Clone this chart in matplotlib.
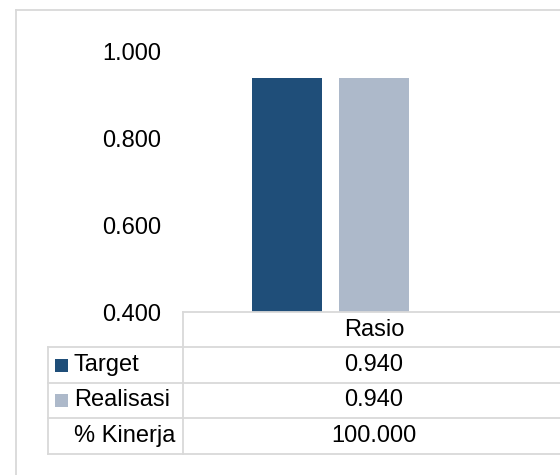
import matplotlib.pyplot as plt
from matplotlib.lines import Line2D
from matplotlib.patches import Rectangle
import numpy as np

plt.rcParams["font.family"] = ["Liberation Sans", "DejaVu Sans"]

categories = ["Rasio"]
series = ["Target", "Realisasi", "% Kinerja"]
values = [[0.940], [0.940], [100.000]]
colors = ["#1f4e79", "#adb9ca", "none"]
yticks = [0.4, 0.6, 0.8, 1.0]

W, H = 560, 475
fig = plt.figure(figsize=(W / 100, H / 100), dpi=100)


def fx(px):
    return px / W


def fy(py):
    return 1 - py / H


GRID = "#d9d9d9"
FS = 17

# outer chart border (only left and top are inside the canvas)
fig.add_artist(Line2D([fx(16), fx(16)], [fy(10), 0], color=GRID, lw=1.3))
fig.add_artist(Line2D([fx(16), 1], [fy(10), fy(10)], color=GRID, lw=1.3))

# plot area, spanning the single category column of the data table
ax_l, ax_r, ax_t, ax_b = 183.3, 564.7, 51.7, 312.3
ax = fig.add_axes([fx(ax_l), fy(ax_b), fx(ax_r - ax_l), fy(ax_t) - fy(ax_b)])
ax.set_clip_on(False)

x = np.arange(len(categories))
bw = 70 / (ax_r - ax_l)
step = 87.5 / (ax_r - ax_l)
for i, (name, vals, c) in enumerate(zip(series, values, colors)):
    ax.bar(x + (i - 1) * step, vals, width=bw, color=c, label=name)

ax.set_xlim(-0.5, len(categories) - 0.5)
ax.set_ylim(0.4, 1.0)
ax.set_yticks(yticks)
ax.set_yticklabels([f"{v:.3f}" for v in yticks], fontsize=FS)
ax.tick_params(axis="y", length=0, pad=16)
ax.set_xticks([])
for s in ax.spines.values():
    s.set_visible(False)

# data table under the plot
col_l, col_r = 47.7, 183.3
rows = [312.3, 347.3, 382.7, 418.3, 454.3]
lw = 1.3
fig.add_artist(Line2D([fx(col_r), 1], [fy(rows[0])] * 2, color=GRID, lw=lw))
for r in rows[1:]:
    fig.add_artist(Line2D([fx(col_l), 1], [fy(r)] * 2, color=GRID, lw=lw))
fig.add_artist(Line2D([fx(col_l)] * 2, [fy(rows[1]), fy(rows[-1])], color=GRID, lw=lw))
fig.add_artist(Line2D([fx(col_r)] * 2, [fy(rows[0]), fy(rows[-1])], color=GRID, lw=lw))

col_center = (ax_l + ax_r) / 2
fig.text(fx(col_center), fy((rows[0] + rows[1]) / 2), categories[0],
         ha="center", va="center", fontsize=FS)

for i, (name, vals, c) in enumerate(zip(series, values, colors)):
    yc = (rows[i + 1] + rows[i + 2]) / 2
    if c != "none":
        fig.add_artist(Rectangle((fx(55), fy(yc + 6.5)), fx(13), fy(0) - fy(13),
                                 color=c, lw=0))
    fig.text(fx(74), fy(yc), name, ha="left", va="center", fontsize=FS)
    fig.text(fx(col_center), fy(yc), f"{vals[0]:.3f}",
             ha="center", va="center", fontsize=FS)

fig.savefig("out.png", dpi=100)
